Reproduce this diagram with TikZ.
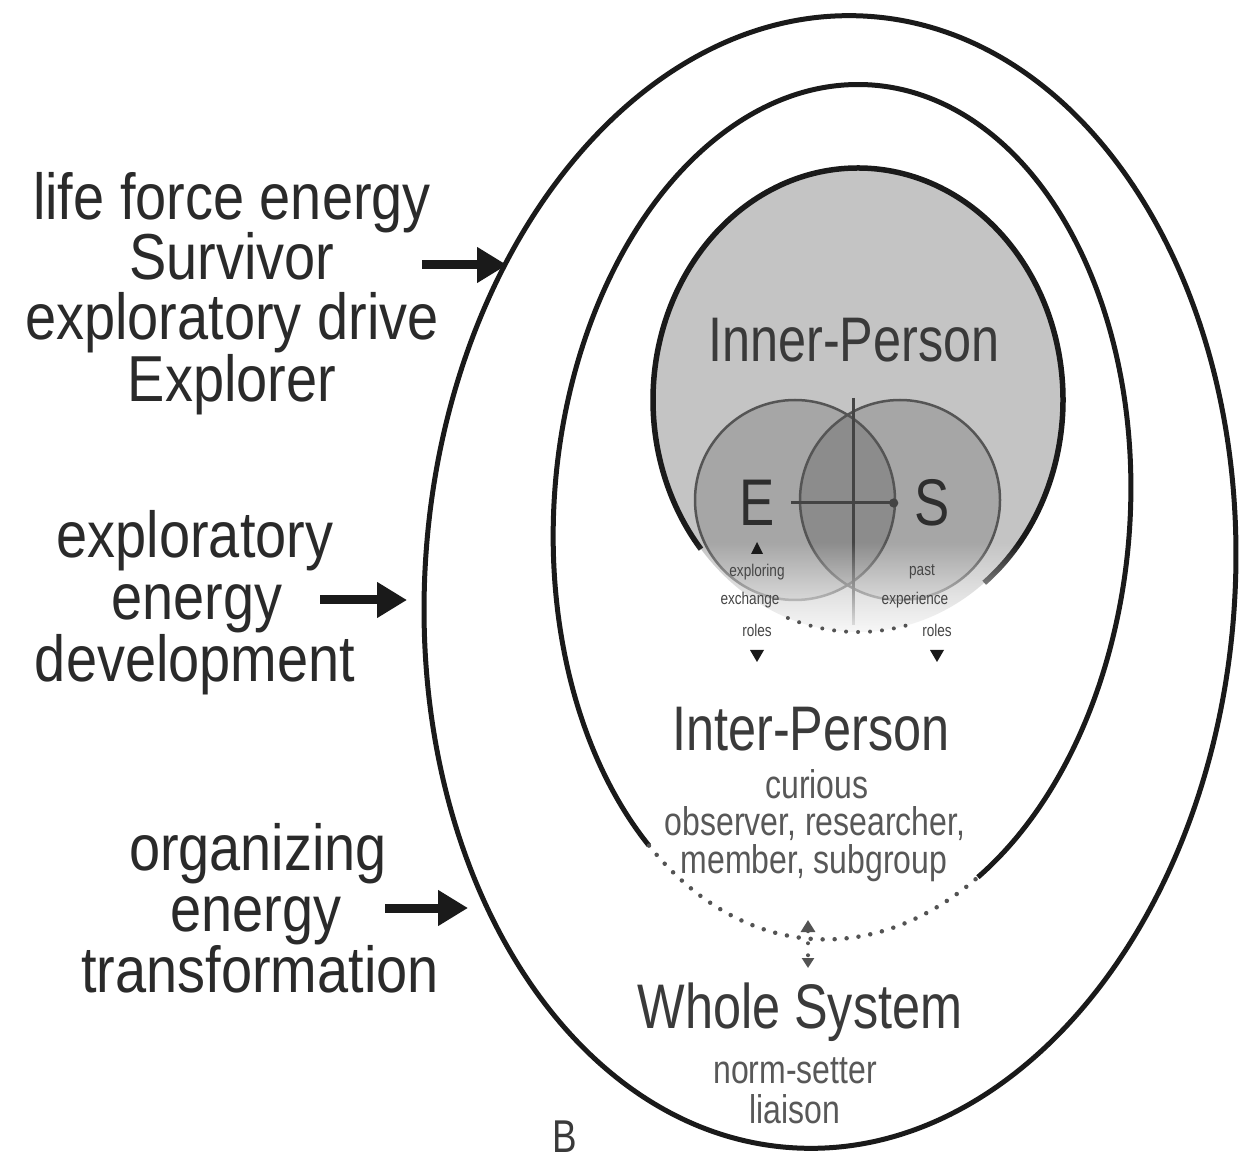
\documentclass[tikz,border=0pt]{standalone}
\usepackage{fontspec}
\setmainfont{Liberation Sans}[FakeStretch=0.8]
\newfontfamily\sidefont{Liberation Sans}[FakeStretch=0.86]
\usetikzlibrary{arrows.meta,fadings}
\definecolor{ink}{HTML}{1A1A1A}
\definecolor{txt}{HTML}{2A2A2A}
\definecolor{txtin}{HTML}{3A3A3A}
\definecolor{txtsm}{HTML}{585858}
\definecolor{innerfill}{HTML}{C4C4C4}
\definecolor{esfill}{HTML}{A6A6A6}
\definecolor{lensfill}{HTML}{8C8C8C}
\definecolor{esline}{HTML}{555555}
\tikzset{
  ring/.style={line width=5pt, draw=ink},
  dotline/.style={line width=4.5pt, draw=ink!75, line cap=round, dash pattern=on 0pt off 12pt},
  bigtxt/.style={font=\sidefont\fontsize{65}{65}\selectfont, text=txt, anchor=base, inner sep=0pt},
  zonetxt/.style={font=\fontsize{63}{63}\selectfont, text=txtin, anchor=base, inner sep=0pt},
  smalltxt/.style={font=\fontsize{40}{40}\selectfont, text=txtsm, anchor=base, inner sep=0pt},
  tinytxt/.style={font=\fontsize{17}{17}\selectfont, text=txtsm!80!black, inner sep=0pt},
  letter/.style={font=\fontsize{66}{66}\selectfont, text=txtin!80!black, inner sep=16pt},
  pointer/.style={line width=9pt, draw=ink, -{Triangle[length=30pt,width=34pt]}},
  axisline/.style={line width=3pt, draw=esline!80!black},
  marker/.style={fill=ink}
}
\begin{document}
\begin{tikzpicture}[x=1pt,y=1pt]
\useasboundingbox (0,0) rectangle (1241,1160);
\fill[white] (0,0) rectangle (1241,1160);

% outer ring
\draw[ring, rotate around={-4:(830,578)}] (830,578) ellipse [x radius=405, y radius=567];

% middle ring (solid upper part, dotted bottom)
\begin{scope}[rotate around={-4:(842,648)}]
  \draw[ring] (842,648) ++(-56:288 and 428) arc[start angle=-56, end angle=234, x radius=288, y radius=428];
  \draw[dotline] (842,648) ++(234:288 and 428) arc[start angle=234, end angle=304, x radius=288, y radius=428];
\end{scope}

% inner person
\fill[innerfill] (858,760) ellipse [x radius=205, y radius=232];
\draw[ring, line width=5.5pt] (858,760) ++(-52:205 and 232) arc[start angle=-52, end angle=220, x radius=205, y radius=232];

% E and S circles
\fill[esfill] (795,660) circle [radius=100];
\fill[esfill] (900,660) circle [radius=100];
\begin{scope}
  \clip (795,660) circle [radius=100];
  \fill[lensfill] (900,660) circle [radius=100];
\end{scope}
\draw[line width=2.5pt, draw=esline] (795,660) circle [radius=100];
\draw[line width=2.5pt, draw=esline] (900,660) circle [radius=100];

% vertical axis
\coordinate (vtop) at (853,762);
\coordinate (vbot) at (853,535);
\draw[axisline] (vtop) -- (vbot);

% fade of the lower part
\fill[white, path fading=north] (680,515) rectangle (1020,618);

% dotted bottom of inner person
\draw[dotline, line width=4pt] (858,760) ++(250:205 and 232) arc[start angle=250, end angle=285, x radius=205, y radius=232];

% E and S
\node[letter] (E) at (757,657) {E};
\node[letter] (S) at (932,657) {S};
\draw[axisline, -{Circle[length=9pt]}] (E) -- (S);

% small markers and labels
\fill[marker] (757,618) -- (751,606) -- (763,606) -- cycle;
\node[tinytxt] (el1) at (757,588) {exploring};
\node[tinytxt] (el2) at (750,560) {exchange};
\node[tinytxt] (el3) at (757,530) {roles};
\fill[marker] (757,498) -- (750,510) -- (764,510) -- cycle;
\node[tinytxt] (sl1) at (922,588) {past};
\node[tinytxt] (sl2) at (915,560) {experience};
\node[tinytxt] (sl3) at (937,530) {roles};
\fill[marker] (937,498) -- (930,510) -- (944,510) -- cycle;

% zone labels
\node[zonetxt] (inner) at (854,798) {Inner-Person};
\node[zonetxt] (inter) at (811,410) {Inter-Person};
\node[smalltxt] (i1) at (817,362) {curious};
\node[smalltxt] (i2) at (815,325) {observer, researcher,};
\node[smalltxt] (i3) at (814,287) {member, subgroup};

\coordinate (da) at (808,240);
\coordinate (db) at (808,192);
\draw[dotline, line width=4pt, {Triangle[length=12pt,width=14pt]}-{Triangle[length=10pt,width=12pt]}] (da) -- (db);

\node[zonetxt] (whole) at (800,132) {Whole System};
\node[smalltxt] (w1) at (795,77) {norm-setter};
\node[smalltxt] (w2) at (795,37) {liaison};

\node[font=\fontsize{46}{46}\selectfont, text=txtin, anchor=base, inner sep=0pt] (B) at (565,8) {B};

% left texts
\node[bigtxt] (t1a) at (232,940) {life force energy};
\node[bigtxt] (t1b) at (232,880) {Survivor};
\node[bigtxt] (t1c) at (232,820) {exploratory drive};
\node[bigtxt] (t1d) at (232,758) {Explorer};

\node[bigtxt] (t2a) at (195,602) {exploratory};
\node[bigtxt] (t2b) at (197,540) {energy};
\node[bigtxt] (t2c) at (195,478) {development};

\node[bigtxt] (t3a) at (258,290) {organizing};
\node[bigtxt] (t3b) at (256,229) {energy};
\node[bigtxt] (t3c) at (260,168) {transformation};

% arrows
\coordinate (a1s) at (422,895); \coordinate (a1e) at (507,895);
\coordinate (a2s) at (320,560); \coordinate (a2e) at (407,560);
\coordinate (a3s) at (385,252); \coordinate (a3e) at (468,252);
\draw[pointer] (a1s) -- (a1e);
\draw[pointer] (a2s) -- (a2e);
\draw[pointer] (a3s) -- (a3e);
\end{tikzpicture}
\end{document}
